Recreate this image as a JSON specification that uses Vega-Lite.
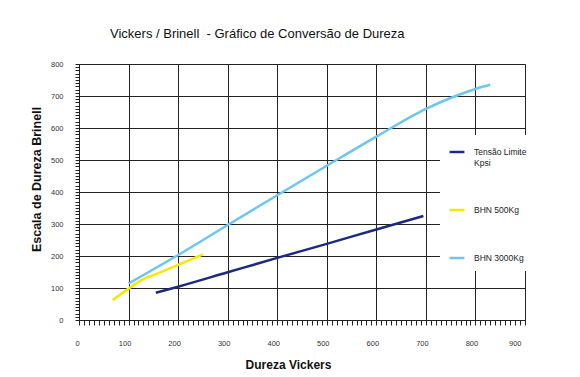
{
  "$schema": "https://vega.github.io/schema/vega-lite/v6.json",
  "width": 446,
  "height": 256,
  "autosize": {"type": "none"},
  "padding": {"left": 79, "top": 64, "right": 55, "bottom": 57},
  "background": "white",
  "title": {
    "text": "Vickers / Brinell\u00a0 - Gráfico de Conversão de Dureza",
    "anchor": "start",
    "frame": "group",
    "dx": 31,
    "offset": 19,
    "font": "'Liberation Sans', Arial, Helvetica, sans-serif",
    "fontSize": 13,
    "fontWeight": "normal",
    "color": "#111"
  },
  "data": {
    "values": [
      {"serie": "Tensão Limite Kpsi", "hv": 155, "hb": 85},
      {"serie": "Tensão Limite Kpsi", "hv": 200, "hb": 104},
      {"serie": "Tensão Limite Kpsi", "hv": 300, "hb": 149},
      {"serie": "Tensão Limite Kpsi", "hv": 400, "hb": 194},
      {"serie": "Tensão Limite Kpsi", "hv": 500, "hb": 238},
      {"serie": "Tensão Limite Kpsi", "hv": 600, "hb": 283},
      {"serie": "Tensão Limite Kpsi", "hv": 695, "hb": 325},
      {"serie": "BHN 500Kg", "hv": 68, "hb": 62},
      {"serie": "BHN 500Kg", "hv": 100, "hb": 98},
      {"serie": "BHN 500Kg", "hv": 125, "hb": 124},
      {"serie": "BHN 500Kg", "hv": 150, "hb": 140},
      {"serie": "BHN 500Kg", "hv": 200, "hb": 172},
      {"serie": "BHN 500Kg", "hv": 250, "hb": 205},
      {"serie": "BHN 3000Kg", "hv": 100, "hb": 114},
      {"serie": "BHN 3000Kg", "hv": 200, "hb": 203},
      {"serie": "BHN 3000Kg", "hv": 300, "hb": 297},
      {"serie": "BHN 3000Kg", "hv": 400, "hb": 390},
      {"serie": "BHN 3000Kg", "hv": 500, "hb": 482},
      {"serie": "BHN 3000Kg", "hv": 600, "hb": 573},
      {"serie": "BHN 3000Kg", "hv": 700, "hb": 660},
      {"serie": "BHN 3000Kg", "hv": 760, "hb": 700},
      {"serie": "BHN 3000Kg", "hv": 800, "hb": 722},
      {"serie": "BHN 3000Kg", "hv": 830, "hb": 735}
    ]
  },
  "mark": {"type": "line", "strokeWidth": 2.5, "interpolate": "monotone"},
  "encoding": {
    "x": {
      "field": "hv",
      "type": "quantitative",
      "scale": {"domain": [0, 900], "nice": false, "zero": false},
      "axis": {
        "title": "Dureza Vickers",
        "values": [0,10,20,30,40,50,60,70,80,90,100,110,120,130,140,150,160,170,180,190,200,210,220,230,240,250,260,270,280,290,300,310,320,330,340,350,360,370,380,390,400,410,420,430,440,450,460,470,480,490,500,510,520,530,540,550,560,570,580,590,600,610,620,630,640,650,660,670,680,690,700,710,720,730,740,750,760,770,780,790,800,810,820,830,840,850,860,870,880,890,900],
        "labelExpr": "datum.value % 100 === 0 ? datum.label : ''",
        "grid": true,
        "gridColor": "#222",
        "gridWidth": 1,
        "gridOpacity": {"condition": {"test": "datum.value % 100 === 0", "value": 1}, "value": 0},
        "tickSize": 5,
        "tickColor": "#222",
        "domainColor": "#222",
        "labelFont": "'Liberation Sans', Arial, Helvetica, sans-serif",
        "labelFontSize": 7.5,
        "labelColor": "#333",
        "labelPadding": 14,
        "labelOffset": -4,
        "labelOverlap": false,
        "titleFont": "'Liberation Sans', Arial, Helvetica, sans-serif",
        "titleFontSize": 12,
        "titleFontWeight": "bold",
        "titleColor": "#111",
        "titleX": 209,
        "titleY": 48,
        "titleAnchor": null,
        "titleAlign": "center",
        "titleBaseline": "alphabetic"
      }
    },
    "y": {
      "field": "hb",
      "type": "quantitative",
      "scale": {"domain": [0, 800], "nice": false, "zero": true},
      "axis": {
        "title": "Escala de Dureza Brinell",
        "values": [0,10,20,30,40,50,60,70,80,90,100,110,120,130,140,150,160,170,180,190,200,210,220,230,240,250,260,270,280,290,300,310,320,330,340,350,360,370,380,390,400,410,420,430,440,450,460,470,480,490,500,510,520,530,540,550,560,570,580,590,600,610,620,630,640,650,660,670,680,690,700,710,720,730,740,750,760,770,780,790,800],
        "labelExpr": "datum.value % 100 === 0 ? datum.label : ''",
        "grid": true,
        "gridColor": "#222",
        "gridWidth": 1,
        "gridOpacity": {"condition": {"test": "datum.value % 100 === 0", "value": 1}, "value": 0},
        "tickSize": 4,
        "tickColor": "#222",
        "domainColor": "#222",
        "labelFont": "'Liberation Sans', Arial, Helvetica, sans-serif",
        "labelFontSize": 7.5,
        "labelColor": "#333",
        "labelPadding": 12,
        "labelOverlap": false,
        "titleFont": "'Liberation Sans', Arial, Helvetica, sans-serif",
        "titleFontSize": 12.5,
        "titleFontWeight": "bold",
        "titleColor": "#111",
        "titleX": -43,
        "titleY": 115,
        "titleAngle": -90,
        "titleAlign": "center",
        "titleBaseline": "middle"
      }
    },
    "color": {
      "field": "serie",
      "type": "nominal",
      "scale": {
        "domain": ["Tensão Limite Kpsi", "BHN 500Kg", "BHN 3000Kg"],
        "range": ["#1c2a84", "#f2ea00", "#6cc6f2"]
      },
      "legend": {
        "title": null,
        "orient": "none",
        "legendX": 361,
        "legendY": 71,
        "fillColor": "white",
        "padding": 8,
        "symbolType": "stroke",
        "symbolSize": 220,
        "symbolStrokeWidth": 2.5,
        "labelFont": "'Liberation Sans', Arial, Helvetica, sans-serif",
        "labelFontSize": 8.5,
        "labelColor": "#222",
        "labelOffset": 8,
        "rowPadding": 34,
        "labelExpr": "datum.label == 'Tensão Limite Kpsi' ? ['Tensão Limite', '\u00a0Kpsi'] : datum.label"
      }
    }
  },
  "config": {
    "view": {"stroke": "#888", "strokeWidth": 1}
  }
}
